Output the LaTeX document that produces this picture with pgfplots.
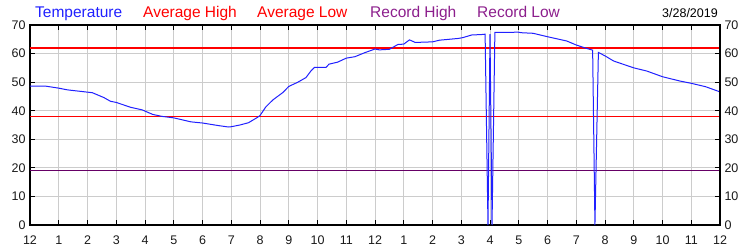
\documentclass[border=0pt]{standalone}
\usepackage{fontspec}
\setmainfont{Liberation Sans}
\usepackage{pgfplots}
\pgfplotsset{compat=1.18}
\definecolor{tempblue}{RGB}{32,32,255}
\definecolor{reclow}{RGB}{102,0,102}
\definecolor{rectext}{RGB}{140,30,140}
\definecolor{gridgray}{RGB}{204,204,204}
\begin{document}
\begin{tikzpicture}
\useasboundingbox (-30pt,-25pt) rectangle (720pt,225pt);
\begin{axis}[
  width=690pt, height=200pt, scale only axis,
  at={(0pt,0pt)}, anchor=south west,
  xmin=0, xmax=24, ymin=0, ymax=70,
  xtick={0,1,...,24},
  xticklabels={12,1,2,3,4,5,6,7,8,9,10,11,12,1,2,3,4,5,6,7,8,9,10,11,12},
  ytick={0,10,...,70},
  xtick pos=both, ytick pos=both,
  xticklabel pos=lower, yticklabel pos=left,
  tick align=inside, major tick length=5pt,
  tick style={black, line width=0.9pt},
  grid=major, grid style={gridgray, line width=0.9pt},
  axis line style={black, line width=1.2pt},
  /pgf/number format/assume math mode=true,
  ticklabel style={font=\fontsize{12.5}{14}\selectfont, text=black!90},
  every x tick label/.append style={yshift=-7.5pt},
  yticklabel style={xshift=-1pt},
]
\addplot[red, line width=1.5pt] coordinates {(0,62) (24,62)};
\addplot[red, line width=1.2pt] coordinates {(0,38) (24,38)};
\addplot[reclow, line width=1.1pt] coordinates {(0,19) (24,19)};
\addplot[tempblue, line width=1pt] coordinates {
(0.00,48.6) (0.55,48.6) (1.00,47.9) (1.30,47.3) (2.00,46.5) (2.17,46.3)
(2.57,44.6) (2.80,43.3) (3.00,42.9) (3.50,41.2) (3.90,40.3) (4.27,38.7)
(4.60,38.0) (5.00,37.5) (5.60,36.1) (6.00,35.7) (6.55,34.8) (6.90,34.3)
(7.00,34.4) (7.30,35.0) (7.60,35.8) (7.90,37.6) (8.00,38.3) (8.20,41.3)
(8.45,43.8) (8.80,46.4) (9.00,48.5) (9.30,49.9) (9.60,51.6) (9.77,53.9)
(9.90,55.2) (10.30,55.2) (10.40,56.3) (10.70,57.0) (11.00,58.4) (11.30,58.9)
(11.64,60.3) (12.00,61.6) (12.15,61.3) (12.50,61.5) (12.80,63.2) (13.00,63.3)
(13.20,64.8) (13.40,63.9) (14.00,64.1) (14.25,64.7) (14.90,65.3) (15.06,65.6)
(15.36,66.5) (15.76,66.7) (15.83,66.8) (15.93,0) (16.00,66.8) (16.07,0)
(16.17,67.4) (16.60,67.4) (16.97,67.5) (17.10,67.3) (17.50,67.1) (18.00,65.9)
(18.67,64.4) (19.00,63.0) (19.36,61.8) (19.57,61.2) (19.65,0) (19.77,60.4)
(20.00,59.2) (20.30,57.4) (21.00,55.0) (21.45,53.9) (22.00,51.9) (22.60,50.4)
(23.00,49.6) (23.50,48.4) (24.00,46.6)
};
\end{axis}
\begin{axis}[
  width=690pt, height=200pt, scale only axis,
  at={(0pt,0pt)}, anchor=south west,
  xmin=0, xmax=24, ymin=0, ymax=70,
  hide x axis,
  axis y line*=right,
  ytick={0,10,...,70},
  ytick pos=right, yticklabel pos=right,
  major tick length=0pt,
  axis line style={black, line width=1.2pt},
  /pgf/number format/assume math mode=true,
  ticklabel style={font=\fontsize{12.5}{14}\selectfont, text=black!90},
  yticklabel style={xshift=1pt},
]
\addplot[draw=none] coordinates {(0,0) (24,70)};
\end{axis}
\begin{scope}[every node/.style={inner sep=0pt, font=\fontsize{15.5}{18}\selectfont}]
\node[anchor=base west, text=tempblue] at (5pt,207.5pt) {Temperature};
\node[anchor=base west, text=red] at (113pt,207.5pt) {Average High};
\node[anchor=base west, text=red] at (227pt,207.5pt) {Average Low};
\node[anchor=base west, text=rectext] at (340pt,207.5pt) {Record High};
\node[anchor=base west, text=rectext] at (447pt,207.5pt) {Record Low};
\node[anchor=base east, text=black, font=\fontsize{12.5}{15}\selectfont] at (688pt,208pt) {3/28/2019};
\end{scope}
\end{tikzpicture}
\end{document}
